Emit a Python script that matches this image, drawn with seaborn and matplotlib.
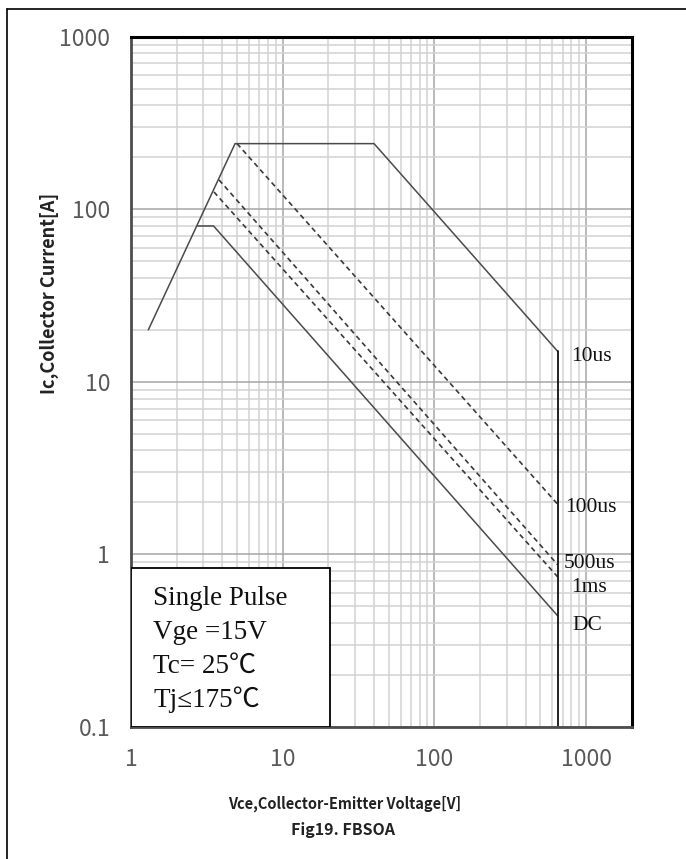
import numpy as np
import pandas as pd
import matplotlib
matplotlib.use("Agg")
import matplotlib.pyplot as plt
import matplotlib.ticker as mticker
from matplotlib.patches import Rectangle
from matplotlib.lines import Line2D
import seaborn as sns

# FBSOA curves (Vce [V], Ic [A])
v_10us = [1.3, 4.85, 40, 650, 650]
i_10us = [20, 240, 240, 15, 0.1]
v_100us = [5.0, 650]
i_100us = [240, 1.95]
v_500us = [3.8, 650]
i_500us = [148, 0.87]
v_1ms = [3.52, 650]
i_1ms = [126, 0.74]
v_dc = [2.75, 3.5, 650]
i_dc = [80, 80, 0.44]

curve_names = ["10us", "100us", "500us", "1ms", "DC"]
label_x = [792, 723, 716, 800, 816]
label_y = [14.0, 1.88, 0.88, 0.64, 0.387]

x_ticks = [1, 10, 100, 1000]
x_ticklabels = ["1", "10", "100", "1000"]
y_ticks = [0.1, 1, 10, 100, 1000]
y_ticklabels = ["0.1", "1", "10", "100", "1000"]

conditions = ["Single Pulse", "Vge =15V", "Tc= 25℃", "Tj≤175℃"]

sns.set_style("white")
serif = ["Liberation Serif", "Noto Sans CJK SC", "DejaVu Sans"]
sans = ["Noto Sans CJK SC", "DejaVu Sans"]

fig = plt.figure(figsize=(6.86, 8.59), dpi=100)
ax = fig.add_axes([0.191, 0.1537, 0.730, 0.8036])

solid = dict(color="#4a4a4a", linewidth=1.1, estimator=None)
dashed = dict(color="#3a3a3a", linewidth=1.2, linestyle=(0, (3, 2.2)), estimator=None)

sns.lineplot(x=v_10us[:4], y=i_10us[:4], sort=False, ax=ax, **solid)
sns.lineplot(x=v_dc, y=i_dc, sort=False, ax=ax, **solid)
sns.lineplot(x=v_100us, y=i_100us, sort=False, ax=ax, **dashed)
sns.lineplot(x=v_500us, y=i_500us, sort=False, ax=ax, **dashed)
sns.lineplot(x=v_1ms, y=i_1ms, sort=False, ax=ax, **dashed)
# vertical voltage limit, a bit darker
ax.plot(v_10us[3:], i_10us[3:], color="#111111", linewidth=1.3)

ax.set_xscale("log")
ax.set_yscale("log")
ax.set_xlim(1, 2000)
ax.set_ylim(0.1, 1000)

ax.xaxis.set_major_locator(mticker.FixedLocator(x_ticks))
ax.yaxis.set_major_locator(mticker.FixedLocator(y_ticks))
ax.xaxis.set_minor_locator(mticker.LogLocator(base=10, subs=np.arange(2, 10), numticks=20))
ax.yaxis.set_minor_locator(mticker.LogLocator(base=10, subs=np.arange(2, 10), numticks=20))
ax.xaxis.set_minor_formatter(mticker.NullFormatter())
ax.yaxis.set_minor_formatter(mticker.NullFormatter())
ax.set_xticklabels(x_ticklabels)
ax.set_yticklabels(y_ticklabels)

ax.grid(which="major", color="#a6a6a6", linewidth=1.1)
ax.grid(which="minor", color="#d2d2d2", linewidth=1.1)
ax.set_axisbelow(True)

ax.tick_params(axis="x", which="major", direction="out", length=8, width=1, color="#999999",
               pad=7, labelsize=16.5, labelcolor="#595959")
ax.tick_params(axis="y", which="major", length=0, pad=15, labelsize=16.5, labelcolor="#595959")
ax.tick_params(axis="both", which="minor", direction="in", length=4, width=1, color="#777777")
for lab in ax.get_xticklabels() + ax.get_yticklabels():
    lab.set_family(sans)
    lab.set_fontweight("light")

for side in ["left", "bottom"]:
    ax.spines[side].set_color("#4d4d4d")
    ax.spines[side].set_linewidth(2)
for side in ["top", "right"]:
    ax.spines[side].set_color("#000000")
    ax.spines[side].set_linewidth(2.2)

for name, lx, ly in zip(curve_names, label_x, label_y):
    ax.text(lx, ly, name, family=serif, fontsize=15.5, color="#111111", va="center", ha="left")

# conditions box in lower left
ax.add_patch(Rectangle((0, 0), 0.397, 0.23, transform=ax.transAxes, facecolor="white",
                       edgecolor="black", linewidth=1.3, zorder=5))
for k, line in enumerate(conditions):
    ax.text(0.044, 0.177 - k * 0.0495, line, transform=ax.transAxes, family=serif,
            fontsize=19.5, color="#111111", va="baseline", ha="left", zorder=6)

fig.text(0.072, 0.658, "Ic,Collector Current[A]", rotation=90, ha="center", va="center",
         family=sans, fontsize=13, fontweight="bold", color="#222222")
fig.text(0.503, 0.064, "Vce,Collector-Emitter Voltage[V]", ha="center", va="center",
         family=sans, fontsize=10.5, fontweight="bold", color="#222222")
fig.text(0.5, 0.0338, "Fig19. FBSOA", ha="center", va="center",
         family=sans, fontsize=11.5, fontweight="bold", color="#222222")

# page frame (left and top edges)
fig.add_artist(Line2D([0.0095, 0.0095], [0, 0.9895], transform=fig.transFigure, color="black", linewidth=1.2))
fig.add_artist(Line2D([0.0095, 1], [0.9895, 0.9895], transform=fig.transFigure, color="black", linewidth=1.2))

fig.savefig("out.png", dpi=100)
